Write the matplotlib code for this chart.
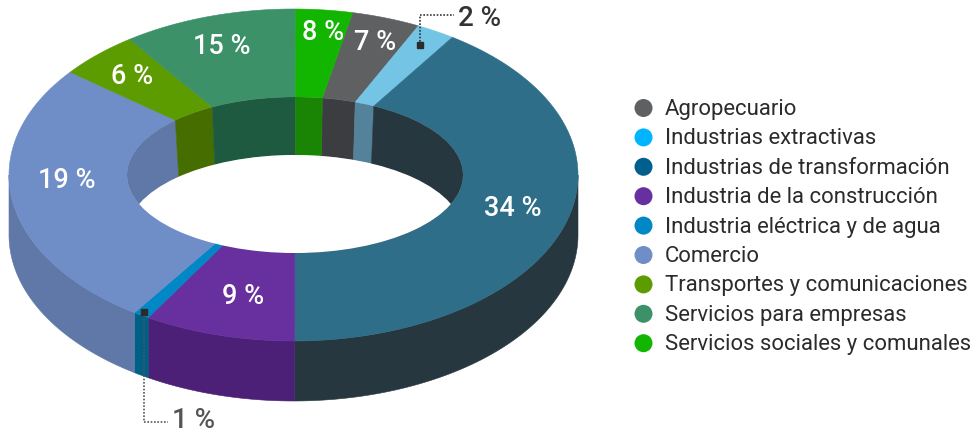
# -*- coding: utf-8 -*-
import numpy as np
import matplotlib
matplotlib.use("Agg")
import matplotlib.pyplot as plt
from matplotlib.patches import Polygon, Ellipse, Circle, Rectangle

# ==============================================================================
# DATOS
# ==============================================================================
sectores = ["Agropecuario", "Industrias extractivas", "Industrias de transformación",
            "Industria de la construcción", "Industria eléctrica y de agua", "Comercio",
            "Transportes y comunicaciones", "Servicios para empresas",
            "Servicios sociales y comunales"]
etiquetas = ["7 %", "2 %", "34 %", "9 %", "1 %", "19 %", "6 %", "15 %", "8 %"]
# tamaño de cada sector tal como está dibujado en el anillo (% de la vuelta)
dibujado = [3.9, 2.2, 40.5, 8.6, 0.9, 26.2, 4.6, 9.9, 3.2]
inicio = 12.0

col_sup = ["#5f6062", "#74c4e6", "#2e6e88", "#67309e", "#0087c6",
           "#6f8dc7", "#5c9c00", "#3c9169", "#12b500"]
col_lado = ["#3c3d40", "#54829a", "#263740", "#4b2076", "#005f85",
            "#5f78a8", "#456d00", "#1e5a40", "#1a8404"]
col_leyenda = ["#5f6062", "#00b4ff", "#005f8c", "#67309e", "#0087c6",
               "#6f8dc7", "#5c9c00", "#3c9169", "#12b500"]

# ==============================================================================
# GEOMETRÍA
# ==============================================================================
EXT = (293.5, 175.0, 284.5, 166.0)
INT = (295.0, 175.0, 168.0, 78.0)
FONDO = (295.0, 233.0, 163.0, 78.0)
ALTO = 60
pos_etiquetas = {0: (375, 42), 2: (513, 208), 3: (243, 297), 5: (67, 181),
                 6: (132, 76), 7: (222, 46), 8: (323, 32)}

plt.rcParams["font.family"] = ["Roboto", "DejaVu Sans"]
fig = plt.figure(figsize=(9.72, 4.34), dpi=100)
ax = fig.add_axes([0, 0, 1, 1])
ax.set_xlim(0, 972)
ax.set_ylim(434, 0)
ax.axis("off")


def arco(elipse, t0, t1, dy=0):
    cx, cy, a, b = elipse
    t = np.radians(np.linspace(t0, t1, 120))
    return np.column_stack([cx + a * np.sin(t), cy - b * np.cos(t) + dy])


def angulo_interior(t):
    # la división del sector va recta hacia el centro del hueco
    p = arco(EXT, t, t)[0]
    ang = np.degrees(np.arctan2((p[0] - INT[0]) / INT[2], (INT[1] - p[1]) / INT[3]))
    return ang + 360 * np.round((t - ang) / 360)


def relleno(puntos, color, zorder, clip=None):
    pol = Polygon(puntos, closed=True, facecolor=color, edgecolor=color, lw=0.4, zorder=zorder)
    ax.add_patch(pol)
    if clip is not None:
        pol.set_clip_path(clip)


cortes = inicio + np.cumsum([0] + dibujado) * 3.6
hueco = Ellipse(INT[:2], 2 * INT[2], 2 * INT[3], facecolor="none", edgecolor="none")
ax.add_patch(hueco)

for i in range(len(sectores)):
    t0, t1 = cortes[i], cortes[i + 1]
    i0, i1 = angulo_interior(t0), angulo_interior(t1)

    # cara superior
    relleno(np.vstack([arco(EXT, t0, t1), arco(INT, i1, i0)]), col_sup[i], 3)

    # pared exterior, sólo la mitad de abajo se ve
    a0, a1 = max(t0, 90), min(t1, 270)
    if a1 > a0:
        relleno(np.vstack([arco(EXT, a0, a1), arco(EXT, a1, a0, ALTO)]), col_lado[i], 2)

    # pared interior
    relleno(np.vstack([arco(INT, i0, i1), arco(FONDO, i1, i0)]), col_lado[i], 4, clip=hueco)

blanco = Ellipse(FONDO[:2], 2 * FONDO[2] + 10, 2 * FONDO[3], facecolor="white", edgecolor="none", zorder=5)
ax.add_patch(blanco)
blanco.set_clip_path(hueco)

# ==============================================================================
# TEXTOS
# ==============================================================================
for i, (x, y) in pos_etiquetas.items():
    ax.text(x, y, etiquetas[i], color="white", fontsize=19.5, fontweight="medium",
            ha="center", va="center", zorder=6)

# llamadas de los sectores pequeños
ax.plot([420, 420, 454], [45, 15, 15], color="#333333", lw=1.2, ls=(0, (1, 1)), zorder=6)
ax.add_patch(Rectangle((417, 42), 6, 6, color="#2b2b2b", zorder=7))
ax.text(458, 18, etiquetas[1], color="#333333", fontsize=20, fontweight="medium", va="center", zorder=6)

ax.plot([143.5, 143.5, 168], [312, 422, 422], color="#555555", lw=1.2, ls=(0, (1, 1)), zorder=6)
ax.add_patch(Rectangle((140.5, 309), 6, 6, color="#2b2b2b", zorder=7))
ax.text(172, 421, etiquetas[4], color="#555555", fontsize=20, fontweight="medium", va="center", zorder=6)

# leyenda
for i, nombre in enumerate(sectores):
    y = 108 + i * 29.4
    ax.add_patch(Circle((643.5, y), 9, facecolor=col_leyenda[i], edgecolor="none"))
    ax.text(665, y + 1.5, nombre, color="#2b2b2b", fontsize=15.9, va="center")

plt.savefig("out.png", dpi=100)
